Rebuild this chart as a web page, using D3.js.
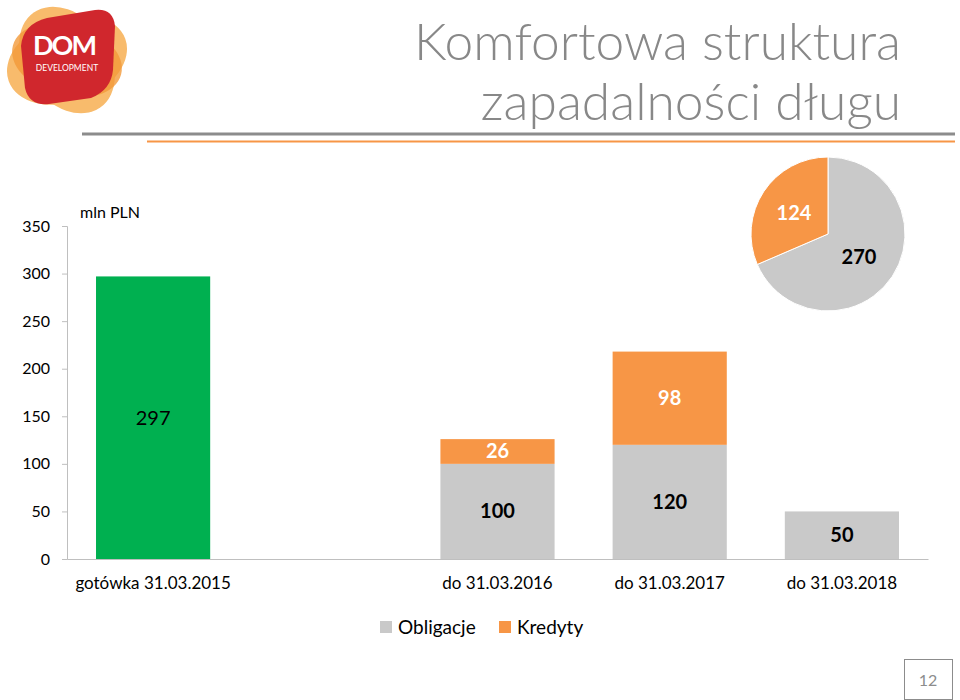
<!DOCTYPE html>
<html>
<head>
<meta charset="utf-8">
<script src="https://cdn.jsdelivr.net/npm/d3@7"></script>
<style>
  body { margin: 0; background: #fff; }
  text { font-family: Lato, "Open Sans", sans-serif; }
</style>
</head>
<body>
<div id="chart"></div>
<script>
// data
const categories = ["gotówka 31.03.2015", " ", "do 31.03.2016", "do 31.03.2017", "do 31.03.2018"]
const gotowka = [297, 0, 0, 0, 0]
const obligacje = [0, 0, 100, 120, 50]
const kredyty = [0, 0, 26, 98, 0]
const pieLabels = ["Obligacje", "Kredyty"]
const pieValues = [270, 124]
const yTicks = [0, 50, 100, 150, 200, 250, 300, 350]

const width = 960
const height = 700
const margin = {top: 226, left: 67, bottom: 141, right: 32}
const iwidth = width - margin.left - margin.right
const iheight = height - margin.top - margin.bottom

const green = "#00b050"
const grey = "#c9c9c9"
const orange = "#f79646"

const svg = d3.select("#chart").append("svg")
    .attr("width", width)
    .attr("height", height)

// logo (approx)
const logo = svg.append("g").attr("transform", "translate(67,60)")
logo.append("ellipse").attr("rx", 62).attr("ry", 42).attr("transform", "rotate(-20)").attr("fill", "#f8bb6c")
logo.append("ellipse").attr("rx", 42).attr("ry", 58).attr("transform", "rotate(-35)").attr("fill", "#f8bb6c")
logo.append("ellipse").attr("rx", 56).attr("ry", 36).attr("transform", "rotate(15)").attr("fill", "#f29a3a").attr("opacity", 0.8)
logo.append("path")
    .attr("d", "M-46,-14 Q-44,-36 -20,-42 L28,-50 Q46,-52 48,-34 L46,10 Q44,30 24,38 L-18,44 Q-38,46 -42,28 Z")
    .attr("fill", "#d0272d")
logo.append("text").attr("x", -3).attr("y", -5).attr("text-anchor", "middle")
    .style("font-size", "27px").style("font-weight", 700).style("fill", "#fff").style("letter-spacing", "-2px").text("DOM")
logo.append("text").attr("x", 0).attr("y", 11).attr("text-anchor", "middle")
    .style("font-size", "8.5px").style("fill", "#fff").text("DEVELOPMENT")

// title
svg.append("text").attr("x", 901).attr("y", 60).attr("text-anchor", "end")
    .style("font-size", "51.5px").style("font-weight", 300).style("fill", "#888").text("Komfortowa struktura")
svg.append("text").attr("x", 901).attr("y", 120).attr("text-anchor", "end")
    .style("font-size", "51.5px").style("font-weight", 300).style("fill", "#888").text("zapadalności długu")
svg.append("line").attr("x1", 82).attr("x2", 955).attr("y1", 134).attr("y2", 134)
    .attr("stroke", "#8c8c8c").attr("stroke-width", 3)
svg.append("line").attr("x1", 147).attr("x2", 955).attr("y1", 141.5).attr("y2", 141.5)
    .attr("stroke", orange).attr("stroke-width", 2)

let g = svg.append("g").attr("transform", `translate(${margin.left},${margin.top})`)

const y = d3.scaleLinear().domain([0, 350]).range([iheight, 0])
const x = d3.scaleBand().domain(categories).range([0, iwidth])
    .paddingInner(0.337).paddingOuter(0.1685)

const rows = categories.map((c, i) => ({cat: c, g: gotowka[i], o: obligacje[i], k: kredyty[i]}))

const yAxis = g.append("g").call(d3.axisLeft(y).tickValues(yTicks).tickSize(5).tickPadding(12))
yAxis.select(".domain").attr("stroke", "#bfbfbf")
yAxis.selectAll(".tick line").attr("stroke", "#bfbfbf")
yAxis.selectAll(".tick text").style("font-size", "16px").style("fill", "#000")

const xAxis = g.append("g").attr("transform", `translate(0,${iheight})`)
    .call(d3.axisBottom(x).tickSize(0).tickPadding(18))
xAxis.select(".domain").attr("stroke", "#bfbfbf")
xAxis.selectAll(".tick text").style("font-size", "17px").style("fill", "#000")

// bars
const stack = [
  {key: "g", base: d => 0, color: green},
  {key: "o", base: d => 0, color: grey},
  {key: "k", base: d => d.o, color: orange}
]
stack.forEach(s => {
  const data = rows.filter(d => d[s.key] > 0)
  g.selectAll("rect." + s.key).data(data).enter().append("rect")
      .attr("class", s.key)
      .attr("x", d => x(d.cat))
      .attr("y", d => y(s.base(d) + d[s.key]))
      .attr("width", x.bandwidth())
      .attr("height", d => y(s.base(d)) - y(s.base(d) + d[s.key]))
      .attr("fill", s.color)
})

// bar labels
const lab = [
  {key: "g", base: d => 0, color: "#000", weight: 400},
  {key: "o", base: d => 0, color: "#000", weight: 700},
  {key: "k", base: d => d.o, color: "#fff", weight: 700}
]
lab.forEach(s => {
  const data = rows.filter(d => d[s.key] > 0)
  g.selectAll("text.l" + s.key).data(data).enter().append("text")
      .attr("class", "l" + s.key)
      .attr("x", d => x(d.cat) + x.bandwidth() / 2)
      .attr("y", d => y(s.base(d) + d[s.key] / 2))
      .attr("dy", "0.35em")
      .attr("text-anchor", "middle")
      .style("font-size", "20px")
      .style("font-weight", s.weight)
      .style("fill", s.color)
      .text(d => d[s.key])
})

svg.append("text").attr("x", 80).attr("y", 218).style("font-size", "16px").text("mln PLN")

// pie
const pie = d3.pie().sort(null)(pieValues)
const arc = d3.arc().innerRadius(0).outerRadius(77)
const pg = svg.append("g").attr("transform", "translate(828,234)")
pg.selectAll("path").data(pie).enter().append("path")
    .attr("d", arc)
    .attr("fill", (d, i) => i == 0 ? grey : orange)
    .attr("stroke", "#fff").attr("stroke-width", 1)
const pieLabelPos = [[31, 23], [-34, -21]]
pg.selectAll("text").data(pie).enter().append("text")
    .attr("x", (d, i) => pieLabelPos[i][0])
    .attr("y", (d, i) => pieLabelPos[i][1])
    .attr("dy", "0.35em")
    .attr("text-anchor", "middle")
    .style("font-size", "20px")
    .style("font-weight", 700)
    .style("fill", (d, i) => i == 0 ? "#000" : "#fff")
    .text(d => d.value)

// legend
const legX = [380, 499]
const leg = svg.append("g")
pieLabels.forEach((l, i) => {
  leg.append("rect").attr("x", legX[i]).attr("y", 621).attr("width", 12).attr("height", 12)
      .attr("fill", i == 0 ? grey : orange)
  leg.append("text").attr("x", legX[i] + 18).attr("y", 634).style("font-size", "19px").text(l)
})

// page number
svg.append("rect").attr("x", 904.5).attr("y", 659.5).attr("width", 48).attr("height", 40)
    .attr("fill", "none").attr("stroke", "#8c8c8c")
svg.append("text").attr("x", 928).attr("y", 686).attr("text-anchor", "middle")
    .style("font-size", "16px").style("fill", "#8c8c8c").text("12")
</script>
</body>
</html>
